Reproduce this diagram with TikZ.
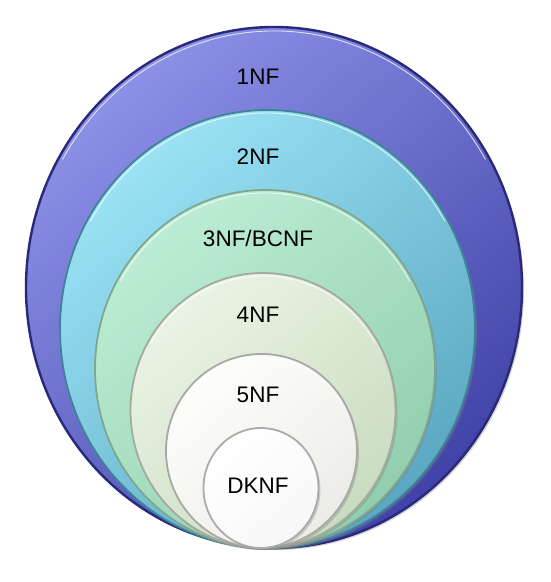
\documentclass[tikz,border=0pt]{standalone}
\usepackage{fontspec}
\setmainfont{Liberation Sans}
\usetikzlibrary{shapes.geometric,shadows}
\definecolor{nfa}{HTML}{8C90E6}\definecolor{nfaa}{HTML}{4143A8}\definecolor{nfar}{HTML}{28297A}
\definecolor{nfb}{HTML}{9AE2F4}\definecolor{nfbb}{HTML}{5BA8C2}\definecolor{nfbr}{HTML}{3E8496}
\definecolor{nfc}{HTML}{BCEDD4}\definecolor{nfcc}{HTML}{92CEAE}\definecolor{nfcr}{HTML}{7FA68E}
\definecolor{nfd}{HTML}{EAF3E4}\definecolor{nfdd}{HTML}{C9DCC0}\definecolor{nfdr}{HTML}{A3AAA0}
\definecolor{nfe}{HTML}{FDFDFB}\definecolor{nfee}{HTML}{ECECE7}\definecolor{nfer}{HTML}{A8A8A6}
\definecolor{nff}{HTML}{FFFFFF}\definecolor{nfff}{HTML}{F7F7F7}\definecolor{nffr}{HTML}{ABABAB}
\tikzset{
  ring/.style n args={5}{ellipse,inner sep=0pt,minimum width=#1pt,minimum height=#2pt,
    top color=#3,bottom color=#4,shading angle=40,draw=#5,line width=1.8pt,
    drop shadow={shadow xshift=2pt,shadow yshift=-2pt,opacity=.35}},
  shine/.style={draw=white,opacity=.75,line width=.9pt,line cap=round},
  lbl/.style={font=\fontsize{22.5}{26}\selectfont,text=black}
}
\newcommand\topshine[3]{\draw[shine] (#1.center) ++(150:#2 and #3) arc[start angle=150,end angle=30,x radius=#2,y radius=#3];}
\begin{document}
\begin{tikzpicture}[x=1pt,y=1pt]
        \useasboundingbox (0,0) rectangle (550,582);
        \node[ring={496}{521}{nfa}{nfaa}{nfar},line width=2.4pt] (nf1) at (274,294.5) {};
        \topshine{nf1}{244}{256.5}
        \node[ring={415}{438}{nfb}{nfbb}{nfbr}] (nf2) at (267.5,253) {};
        \topshine{nf2}{204.5}{216}
        \node[ring={340}{358}{nfc}{nfcc}{nfcr}] (nf3) at (265,213) {};
        \topshine{nf3}{167}{176}
        \node[ring={265}{275}{nfd}{nfdd}{nfdr}] (nf4) at (263,171.5) {};
        \topshine{nf4}{129.5}{134.5}
        \node[ring={191}{194}{nfe}{nfee}{nfer}] (nf5) at (261.5,131) {};
        \topshine{nf5}{92.5}{94}
        \node[ring={115}{120}{nff}{nfff}{nffr}] (dk) at (261,94) {};
        \node[lbl] (t1) at (258,505) {1NF};
        \node[lbl] (t2) at (258,425) {2NF};
        \node[lbl] (t3) at (258,344) {3NF/BCNF};
        \node[lbl] (t4) at (258,267) {4NF};
        \node[lbl] (t5) at (258,187) {5NF};
        \node[lbl] (t6) at (258,96) {DKNF};
\end{tikzpicture}
\end{document}
